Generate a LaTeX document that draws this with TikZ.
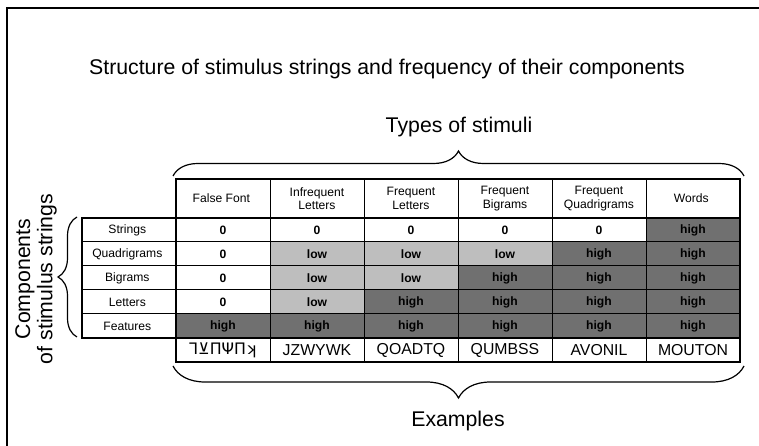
\documentclass[tikz,border=0pt]{standalone}
\usepackage{fontspec}
\setmainfont{Liberation Sans}
\newfontfamily\fakefont{DejaVu Sans}
\usetikzlibrary{decorations.pathreplacing}

\tikzset{
  bigtext/.style={font=\fontsize{12.1}{14}\selectfont},
  headtext/.style={font=\fontsize{6.9}{7.6}\selectfont, align=center},
  celltext/.style={font=\fontsize{6.9}{7.6}\selectfont\bfseries},
  exampletext/.style={font=\fontsize{9.0}{10}\selectfont},
  thinline/.style={line width=0.020cm},
  thickline/.style={line width=0.040cm},
  bracket/.style={line width=0.024cm, decorate, decoration={brace, amplitude=#1}}
}

\begin{document}
\begin{tikzpicture}
                    \useasboundingbox (0.000000,0.000000) rectangle (15.180000,8.920000);

                    % Drawing frame
                    \draw [line width=0.050cm] (0.140000,0.000000) -- (0.140000,8.760000) -- (15.180000,8.760000);%

                    % Drawing titles
                    \draw (7.740000,7.540000) node (title) [bigtext] { Structure of stimulus strings and frequency of their components };%
                    \draw (9.180000,6.380000) node (types) [bigtext] { Types of stimuli };%
                    \draw (9.160000,0.500000) node (examples) [bigtext] { Examples };%
                    \draw (0.500000,3.340000) node (compa) [bigtext, rotate=90] { Components };%
                    \draw (0.940000,3.340000) node (compb) [bigtext, rotate=90] { of stimulus strings };%

                    % Drawing braces
                    \draw [bracket=0.50cm] (3.460000,5.400000) -- (14.880000,5.400000);%
                    \draw [bracket=0.64cm] (14.880000,1.600000) -- (3.460000,1.600000);%
                    \draw [bracket=0.38cm] (1.540000,2.180000) -- (1.540000,4.580000);%

                    % Changing color 190 190 190
                    \definecolor{r190g190b190}{rgb}{0.745098,0.745098,0.745098}%

                    % Filling low cells
                    \fill [r190g190b190] (5.400000,4.080000) rectangle (11.040000,3.600000);%
                    \fill [r190g190b190] (5.400000,3.600000) rectangle (9.160000,3.120000);%
                    \fill [r190g190b190] (5.400000,3.120000) rectangle (7.280000,2.640000);%

                    % Changing color 112 112 112
                    \definecolor{r112g112b112}{rgb}{0.439216,0.439216,0.439216}%

                    % Filling high cells
                    \fill [r112g112b112] (12.920000,4.560000) rectangle (14.800000,4.080000);%
                    \fill [r112g112b112] (11.040000,4.080000) rectangle (14.800000,3.600000);%
                    \fill [r112g112b112] (9.160000,3.600000) rectangle (14.800000,3.120000);%
                    \fill [r112g112b112] (7.280000,3.120000) rectangle (14.800000,2.640000);%
                    \fill [r112g112b112] (3.520000,2.640000) rectangle (14.800000,2.160000);%

                    % Drawing grid
                    \draw [thinline] (1.640000,4.080000) -- (14.800000,4.080000);%
                    \draw [thinline] (1.640000,3.600000) -- (14.800000,3.600000);%
                    \draw [thinline] (1.640000,3.120000) -- (14.800000,3.120000);%
                    \draw [thinline] (1.640000,2.640000) -- (14.800000,2.640000);%
                    \draw [thinline] (5.400000,1.680000) -- (5.400000,5.340000);%
                    \draw [thinline] (7.280000,1.680000) -- (7.280000,5.340000);%
                    \draw [thinline] (9.160000,1.680000) -- (9.160000,5.340000);%
                    \draw [thinline] (11.040000,1.680000) -- (11.040000,5.340000);%
                    \draw [thinline] (12.920000,1.680000) -- (12.920000,5.340000);%
                    \draw [thickline] (3.520000,4.560000) -- (14.800000,4.560000);%
                    \draw [thickline] (3.520000,2.160000) -- (14.800000,2.160000);%
                    \draw [thickline] (1.640000,2.160000) rectangle (3.520000,4.560000);%
                    \draw [thickline] (3.520000,1.680000) rectangle (14.800000,5.340000);%

                    % Marking column heads
                    \draw (4.460000,4.950000) node (h1) [headtext] { False Font };%
                    \draw (6.340000,4.950000) node (h2) [headtext] { Infrequent\\Letters };%
                    \draw (8.220000,4.950000) node (h3) [headtext] { Frequent\\Letters };%
                    \draw (10.100000,4.950000) node (h4) [headtext] { Frequent\\Bigrams };%
                    \draw (11.980000,4.950000) node (h5) [headtext] { Frequent\\Quadrigrams };%
                    \draw (13.860000,4.950000) node (h6) [headtext] { Words };%

                    % Marking row heads
                    \draw (2.580000,4.320000) node (r1) [headtext] { Strings };%
                    \draw (2.580000,3.840000) node (r2) [headtext] { Quadrigrams };%
                    \draw (2.580000,3.360000) node (r3) [headtext] { Bigrams };%
                    \draw (2.580000,2.880000) node (r4) [headtext] { Letters };%
                    \draw (2.580000,2.400000) node (r5) [headtext] { Features };%

                    % Marking row Strings
                    \draw (4.460000,4.320000) node (c11) [celltext] { 0 };%
                    \draw (6.340000,4.320000) node (c12) [celltext] { 0 };%
                    \draw (8.220000,4.320000) node (c13) [celltext] { 0 };%
                    \draw (10.100000,4.320000) node (c14) [celltext] { 0 };%
                    \draw (11.980000,4.320000) node (c15) [celltext] { 0 };%
                    \draw (13.860000,4.320000) node (c16) [celltext] { high };%

                    % Marking row Quadrigrams
                    \draw (4.460000,3.840000) node (c21) [celltext] { 0 };%
                    \draw (6.340000,3.840000) node (c22) [celltext] { low };%
                    \draw (8.220000,3.840000) node (c23) [celltext] { low };%
                    \draw (10.100000,3.840000) node (c24) [celltext] { low };%
                    \draw (11.980000,3.840000) node (c25) [celltext] { high };%
                    \draw (13.860000,3.840000) node (c26) [celltext] { high };%

                    % Marking row Bigrams
                    \draw (4.460000,3.360000) node (c31) [celltext] { 0 };%
                    \draw (6.340000,3.360000) node (c32) [celltext] { low };%
                    \draw (8.220000,3.360000) node (c33) [celltext] { low };%
                    \draw (10.100000,3.360000) node (c34) [celltext] { high };%
                    \draw (11.980000,3.360000) node (c35) [celltext] { high };%
                    \draw (13.860000,3.360000) node (c36) [celltext] { high };%

                    % Marking row Letters
                    \draw (4.460000,2.880000) node (c41) [celltext] { 0 };%
                    \draw (6.340000,2.880000) node (c42) [celltext] { low };%
                    \draw (8.220000,2.880000) node (c43) [celltext] { high };%
                    \draw (10.100000,2.880000) node (c44) [celltext] { high };%
                    \draw (11.980000,2.880000) node (c45) [celltext] { high };%
                    \draw (13.860000,2.880000) node (c46) [celltext] { high };%

                    % Marking row Features
                    \draw (4.460000,2.400000) node (c51) [celltext] { high };%
                    \draw (6.340000,2.400000) node (c52) [celltext] { high };%
                    \draw (8.220000,2.400000) node (c53) [celltext] { high };%
                    \draw (10.100000,2.400000) node (c54) [celltext] { high };%
                    \draw (11.980000,2.400000) node (c55) [celltext] { high };%
                    \draw (13.860000,2.400000) node (c56) [celltext] { high };%

                    % Marking examples
                    \draw (4.460000,1.920000) node (e1) [exampletext] { \fakefont ⅂⊻ΠΨΠʞ };%
                    \draw (6.340000,1.920000) node (e2) [exampletext] { JZWYWK };%
                    \draw (8.220000,1.920000) node (e3) [exampletext] { QOADTQ };%
                    \draw (10.100000,1.920000) node (e4) [exampletext] { QUMBSS };%
                    \draw (11.980000,1.920000) node (e5) [exampletext] { AVONIL };%
                    \draw (13.860000,1.920000) node (e6) [exampletext] { MOUTON };%
\end{tikzpicture}
\end{document}
